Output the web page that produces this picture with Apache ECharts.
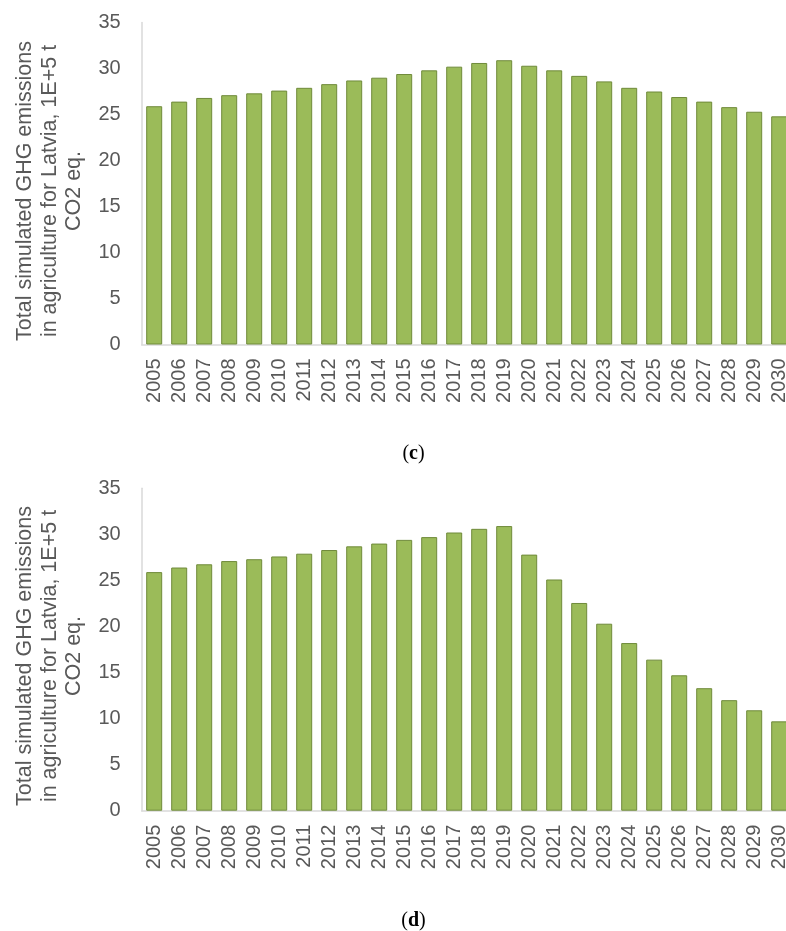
<!DOCTYPE html>
<html>
<head>
<meta charset="utf-8">
<script src="https://cdn.jsdelivr.net/npm/echarts@6/dist/echarts.min.js"></script>
<style>
  html, body { margin: 0; padding: 0; background: #fff; }
  #chart { width: 786px; height: 931px; }
</style>
</head>
<body>
<div id="chart"></div>
<script>
// Years on the category axis
const years = ['2005','2006','2007','2008','2009','2010','2011','2012','2013','2014','2015','2016','2017',
               '2018','2019','2020','2021','2022','2023','2024','2025','2026','2027','2028','2029','2030'];

// Panel (c): total simulated GHG emissions, 1E+5 t CO2 eq.
const valuesC = [25.9, 26.4, 26.8, 27.1, 27.3, 27.6, 27.9, 28.3, 28.7, 29.0, 29.4, 29.8, 30.2,
                 30.6, 30.9, 30.3, 29.8, 29.2, 28.6, 27.9, 27.5, 26.9, 26.4, 25.8, 25.3, 24.8];

// Panel (d): total simulated GHG emissions, 1E+5 t CO2 eq.
const valuesD = [25.9, 26.4, 26.75, 27.1, 27.3, 27.6, 27.9, 28.3, 28.7, 29.0, 29.4, 29.7, 30.2,
                 30.6, 30.9, 27.8, 25.1, 22.55, 20.3, 18.2, 16.4, 14.7, 13.3, 12.0, 10.9, 9.7];

// Value axis ticks
const yMin = 0, yMax = 35, yStep = 5;

const axisTitle = 'Total simulated GHG emissions\nin agriculture for Latvia, 1E+5 t\nCO2 eq.';
const panelLabels = ['c', 'd'];

const font = 'Liberation Sans, Arial, sans-serif';
const grey = '#595959';
const lineGrey = '#d9d9d9';

// Two stacked panels; the plot area runs a little past the right edge of the canvas
const grids = [
  { left: 141.7, top: 22.5, width: 650, height: 322, outerBoundsMode: 'none', containLabel: false },
  { left: 141.7, top: 488.3, width: 650, height: 322.4, outerBoundsMode: 'none', containLabel: false }
];

function xAxisFor(i) {
  return {
    type: 'category', gridIndex: i, data: years, boundaryGap: true,
    axisLine: { show: true, lineStyle: { color: lineGrey, width: 1.5 } },
    axisTick: { show: false },
    axisLabel: { rotate: 90, fontSize: 20, color: grey, fontFamily: font, margin: 14, interval: 0 }
  };
}
function yAxisFor(i) {
  return {
    type: 'value', gridIndex: i, min: yMin, max: yMax, interval: yStep,
    axisLine: { show: true, lineStyle: { color: lineGrey, width: 1.5 } },
    axisTick: { show: false },
    splitLine: { show: false },
    axisLabel: { fontSize: 20, color: grey, fontFamily: font, margin: 21 }
  };
}
function barSeries(i, vals) {
  return {
    type: 'bar', xAxisIndex: i, yAxisIndex: i, data: vals, barWidth: 16,
    itemStyle: { color: '#9bbb59', borderColor: '#6f8a3a', borderWidth: 1 },
    silent: true, animation: false
  };
}

// Rotated value-axis titles, one per panel
const titleCenters = [191, 656];
const axisTitles = titleCenters.map(cy => ({
  type: 'text', x: 49.6, y: cy, rotation: Math.PI / 2, silent: true,
  style: {
    text: axisTitle, fontFamily: font, fontSize: 21.5, lineHeight: 24.8,
    fill: grey, align: 'center', verticalAlign: 'middle'
  }
}));

// Panel captions "(c)" and "(d)"
const captionCenters = [454, 921];
const captions = panelLabels.map((p, i) => ({
  type: 'text', x: 413.5, y: captionCenters[i], silent: true,
  style: {
    text: '{n|(}{b|' + p + '}{n|)}', align: 'center', verticalAlign: 'middle',
    rich: {
      n: { fontFamily: 'Liberation Serif, serif', fontSize: 20, fill: '#000' },
      b: { fontFamily: 'Liberation Serif, serif', fontSize: 20, fontWeight: 'bold', fill: '#000' }
    }
  }
}));

const chart = echarts.init(document.getElementById('chart'), null, { renderer: 'canvas' });
chart.setOption({
  backgroundColor: '#fff',
  animation: false,
  grid: grids,
  xAxis: [xAxisFor(0), xAxisFor(1)],
  yAxis: [yAxisFor(0), yAxisFor(1)],
  series: [barSeries(0, valuesC), barSeries(1, valuesD)],
  graphic: axisTitles.concat(captions)
});
</script>
</body>
</html>
